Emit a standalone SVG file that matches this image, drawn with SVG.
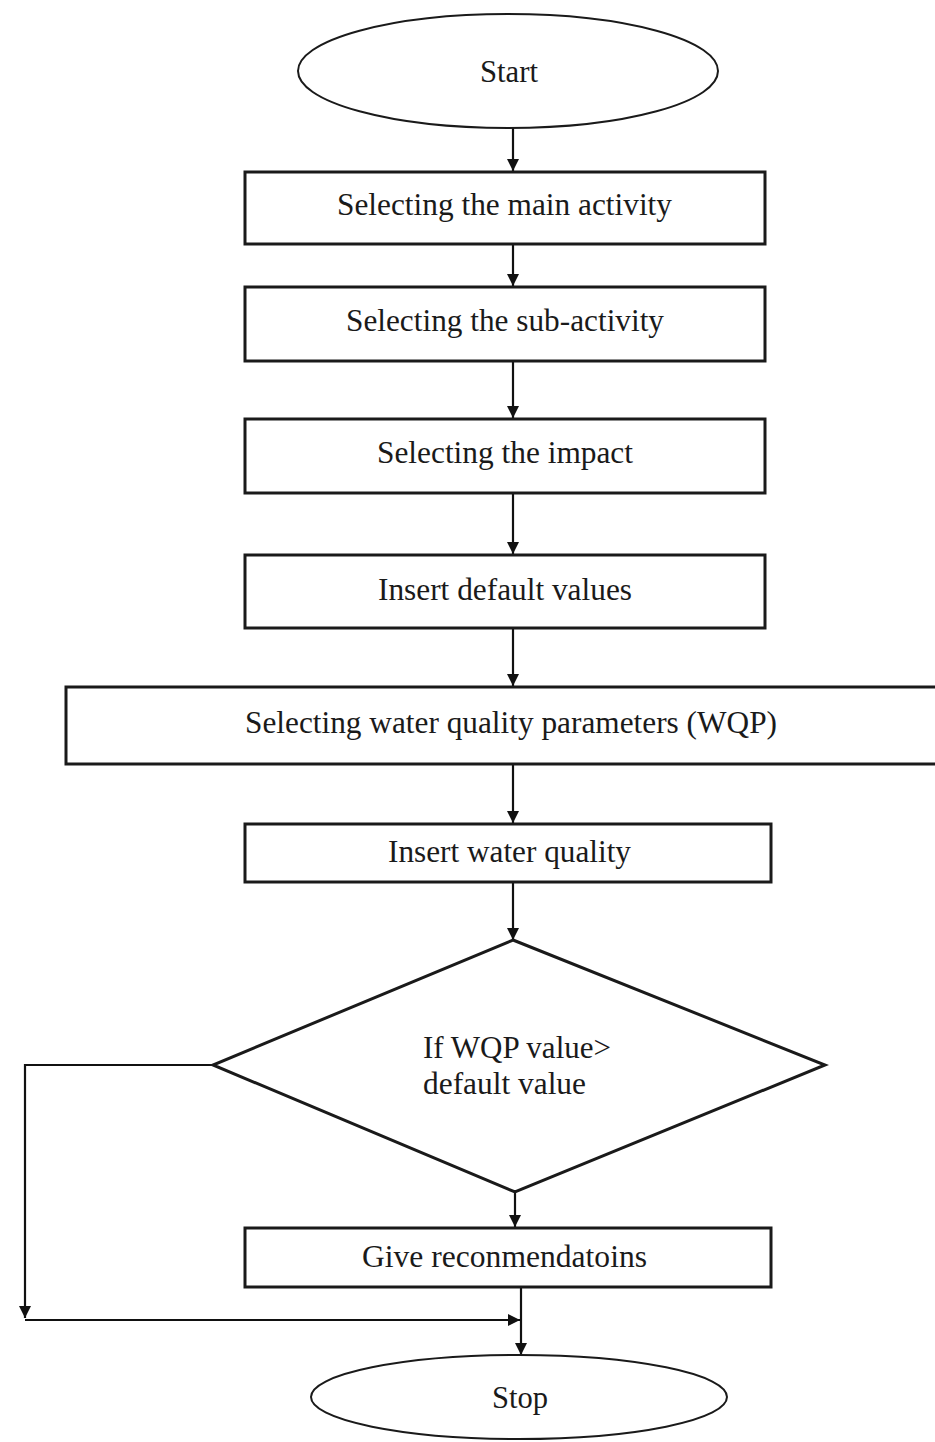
<svg xmlns="http://www.w3.org/2000/svg" width="935" height="1442" viewBox="0 0 935 1442">
<style>
.shape{fill:#fff;stroke:#1a1a1a;stroke-width:3}
.oval{fill:#fff;stroke:#1a1a1a;stroke-width:2}
.lbl{font-family:"Liberation Serif","Times New Roman",serif;font-size:31px;fill:#1a1a1a;text-anchor:middle}
.lbl2{font-family:"Liberation Serif","Times New Roman",serif;font-size:31px;fill:#1a1a1a}
.con{fill:none;stroke:#111;stroke-width:2.2}
</style>
<defs>
<marker id="ah" markerUnits="userSpaceOnUse" markerWidth="13" markerHeight="13" refX="12" refY="6" orient="auto">
<path d="M0,0 L12,6 L0,12 z" fill="#111"/>
</marker>
</defs>
<rect width="935" height="1442" fill="#fff"/>
<g id="connectors">
<line class="con" x1="513" y1="128" x2="513" y2="171" marker-end="url(#ah)"/>
<line class="con" x1="513" y1="244" x2="513" y2="286" marker-end="url(#ah)"/>
<line class="con" x1="513" y1="361" x2="513" y2="418" marker-end="url(#ah)"/>
<line class="con" x1="513" y1="493" x2="513" y2="554" marker-end="url(#ah)"/>
<line class="con" x1="513" y1="628" x2="513" y2="686" marker-end="url(#ah)"/>
<line class="con" x1="513" y1="764" x2="513" y2="823" marker-end="url(#ah)"/>
<line class="con" x1="513" y1="882" x2="513" y2="940" marker-end="url(#ah)"/>
<line class="con" x1="515" y1="1192" x2="515" y2="1227" marker-end="url(#ah)"/>
<line class="con" x1="521" y1="1287" x2="521" y2="1355" marker-end="url(#ah)"/>
<polyline class="con" points="213,1065 25,1065 25,1318" marker-end="url(#ah)"/>
<line class="con" x1="25" y1="1320" x2="520" y2="1320" stroke-width="3" marker-end="url(#ah)"/>
</g>
<g id="start">
<ellipse class="oval" cx="508" cy="71" rx="210" ry="57"/>
<text class="lbl" x="509" y="82" textLength="58" lengthAdjust="spacingAndGlyphs">Start</text>
</g>
<g id="main-activity">
<rect class="shape" x="245" y="172" width="520" height="72"/>
<text class="lbl" x="504.5" y="215" textLength="335" lengthAdjust="spacingAndGlyphs">Selecting the main activity</text>
</g>
<g id="sub-activity">
<rect class="shape" x="245" y="287" width="520" height="74"/>
<text class="lbl" x="505" y="331" textLength="318" lengthAdjust="spacingAndGlyphs">Selecting the sub-activity</text>
</g>
<g id="impact">
<rect class="shape" x="245" y="419" width="520" height="74"/>
<text class="lbl" x="505" y="463" textLength="256" lengthAdjust="spacingAndGlyphs">Selecting the impact</text>
</g>
<g id="default-values">
<rect class="shape" x="245" y="555" width="520" height="73"/>
<text class="lbl" x="505" y="600" textLength="254" lengthAdjust="spacingAndGlyphs">Insert default values</text>
</g>
<g id="wqp">
<rect class="shape" x="66" y="687" width="880" height="77"/>
<text class="lbl" x="511" y="733" textLength="532" lengthAdjust="spacingAndGlyphs">Selecting water quality parameters (WQP)</text>
</g>
<g id="water-quality">
<rect class="shape" x="245" y="824" width="526" height="58"/>
<text class="lbl" x="509.5" y="862" textLength="243" lengthAdjust="spacingAndGlyphs">Insert water quality</text>
</g>
<g id="decision">
<polygon class="shape" stroke-width="2.2" points="513,940 825,1065 515,1192 213,1065"/>
<text class="lbl2" x="423" y="1058" textLength="188" lengthAdjust="spacingAndGlyphs">If WQP value&gt;</text>
<text class="lbl2" x="423" y="1094" textLength="163" lengthAdjust="spacingAndGlyphs">default value</text>
</g>
<g id="recommendations">
<rect class="shape" x="245" y="1228" width="526" height="59"/>
<text class="lbl" x="504.5" y="1267" textLength="285" lengthAdjust="spacingAndGlyphs">Give reconmendatoins</text>
</g>
<g id="stop">
<ellipse class="oval" cx="519" cy="1397" rx="208" ry="42"/>
<text class="lbl" x="520" y="1408" textLength="56" lengthAdjust="spacingAndGlyphs">Stop</text>
</g>
</svg>
